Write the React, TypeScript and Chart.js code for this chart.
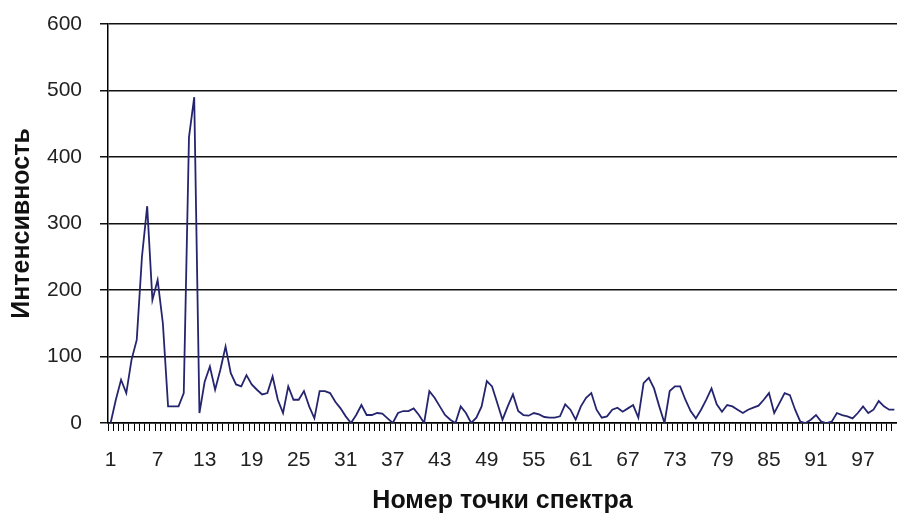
import React, { useEffect, useRef } from "react";
import { Chart, registerables } from "chart.js";

Chart.register(...registerables);

const tickLabels = ["1", "7", "13", "19", "25", "31", "37", "43", "49", "55", "61", "67", "73", "79", "85", "91", "97"];

const intensity = [
  0, 35, 65, 45, 95, 125, 250, 326, 185, 215,
  150, 25, 25, 25, 45, 430, 490, 15, 62, 85,
  50, 80, 115, 75, 58, 55, 72, 58, 50, 43,
  45, 70, 35, 15, 55, 35, 35, 48, 25, 7,
  48, 48, 45, 32, 22, 10, 0, 12, 27, 12,
  12, 15, 14, 7, 0, 15, 18, 18, 22, 12,
  0, 48, 38, 25, 12, 5, 0, 25, 15, 0,
  8, 25, 63, 55, 30, 5, 25, 43, 18, 12,
  11, 15, 13, 9, 8, 8, 10, 28, 20, 5,
  25, 38, 45, 20, 8, 10, 20, 23, 17, 22,
  27, 8, 60, 68, 52, 25, 0, 48, 55, 55,
  35, 18, 7, 20, 35, 52, 28, 17, 27, 25,
  20, 15, 20, 23, 26, 35, 45, 15, 30, 45,
  42, 20, 2, 0, 5, 12, 2, 0, 2, 15,
  12, 10, 7, 15, 25, 15, 20, 33, 25, 20,
  20,
];

const categories = intensity.map((_, i) => String(i));

const yTitle = "Интенсивность";
const xTitle = "Номер точки спектра";

const FONT = "'Liberation Sans', Arial, sans-serif";

export default function App() {
  const ref = useRef<HTMLCanvasElement | null>(null);

  useEffect(() => {
    if (!ref.current) return;
    const chart = new Chart(ref.current, {
      type: "line",
      data: {
        labels: categories,
        datasets: [
          {
            data: intensity,
            borderColor: "#25256f",
            borderWidth: 1.8,
            pointRadius: 0,
            tension: 0,
            fill: false,
          },
        ],
      },
      options: {
        animation: false,
        responsive: false,
        layout: { padding: { top: 24, right: 0, bottom: 0, left: 0 } },
        plugins: { legend: { display: false }, tooltip: { enabled: false } },
        scales: {
          x: {
            type: "category",
            offset: true,
            afterFit: (s: any) => {
              s.height = 93;
              s.paddingLeft = 0;
              s.paddingRight = 0;
            },
            grid: {
              display: true,
              drawOnChartArea: false,
              drawTicks: true,
              tickLength: 8,
              offset: true,
              color: "#000",
              lineWidth: 1,
            },
            border: { display: true, color: "#000", width: 1.5 },
            ticks: {
              autoSkip: false,
              maxRotation: 0,
              minRotation: 0,
              padding: 17,
              color: "#222",
              font: { family: FONT, size: 21 },
              callback: (_v: any, index: number) =>
                index % 9 === 0 ? tickLabels[index / 9] ?? "" : "",
            },
            title: {
              display: true,
              text: xTitle,
              color: "#111",
              font: { family: FONT, size: 25, weight: "bold" },
              padding: { top: 0, bottom: 0 },
            },
          },
          y: {
            min: 0,
            max: 600,
            afterFit: (s: any) => {
              s.width = 108;
              s.paddingTop = 12;
              s.paddingBottom = 0;
            },
            grid: {
              display: true,
              drawOnChartArea: true,
              drawTicks: true,
              tickLength: 8,
              color: "#111",
              lineWidth: 1.5,
            },
            border: { display: true, color: "#000", width: 1.5 },
            ticks: {
              stepSize: 100,
              padding: 18,
              color: "#222",
              font: { family: FONT, size: 21 },
            },
            title: {
              display: true,
              text: yTitle,
              color: "#111",
              font: { family: FONT, size: 25, weight: "bold" },
              padding: { top: 7, bottom: 0 },
            },
          },
        },
      },
    });
    return () => chart.destroy();
  }, []);

  return (
    <div style={{ position: "absolute", left: 0, top: 0, width: 897, height: 516, background: "#fff" }}>
      <canvas ref={ref} width={897} height={516} style={{ display: "block" }} />
    </div>
  );
}
